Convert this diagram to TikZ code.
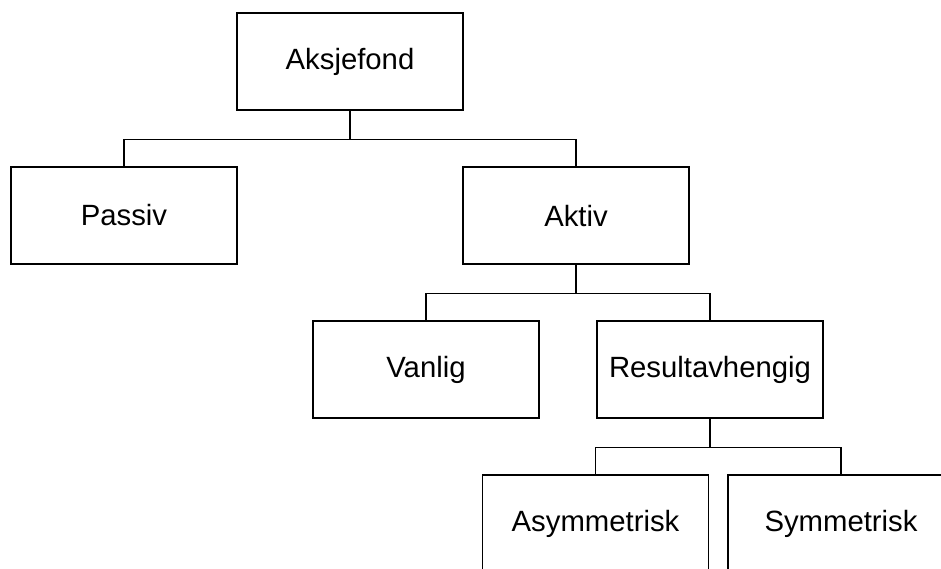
\documentclass[tikz,border=0pt]{standalone}
\usepackage{fontspec}
\setmainfont{Liberation Sans}
\begin{document}
\begin{tikzpicture}[x=1pt,y=-1pt,
  box/.style={draw,line width=1.8pt,minimum width=226pt,minimum height=97pt,inner sep=0pt,font=\fontsize{29.3}{34}\selectfont},
  conn/.style={line width=1.8pt}]
\useasboundingbox (0,0) rectangle (941,568);
\node[box] (root) at (350,61.5) {Aksjefond};
\node[box] (passiv) at (124,215.5) {Passiv};
\node[box] (aktiv) at (576,215.5) {Aktiv};
\node[box] (vanlig) at (426,369.5) {Vanlig};
\node[box] (res) at (710,369.5) {Resultavhengig};
\node[box] (asym) at (595.5,523.5) {Asymmetrisk};
\node[box] (sym) at (841,523.5) {Symmetrisk};
\draw[conn] (root.south) -- ++(0,28.5) -| (passiv.north);
\draw[conn] (root.south) -- ++(0,28.5) -| (aktiv.north);
\draw[conn] (aktiv.south) -- ++(0,28.5) -| (vanlig.north);
\draw[conn] (aktiv.south) -- ++(0,28.5) -| (res.north);
\draw[conn] (res.south) -- ++(0,28.5) -| (asym.north);
\draw[conn] (res.south) -- ++(0,28.5) -| (sym.north);
\end{tikzpicture}
\end{document}
